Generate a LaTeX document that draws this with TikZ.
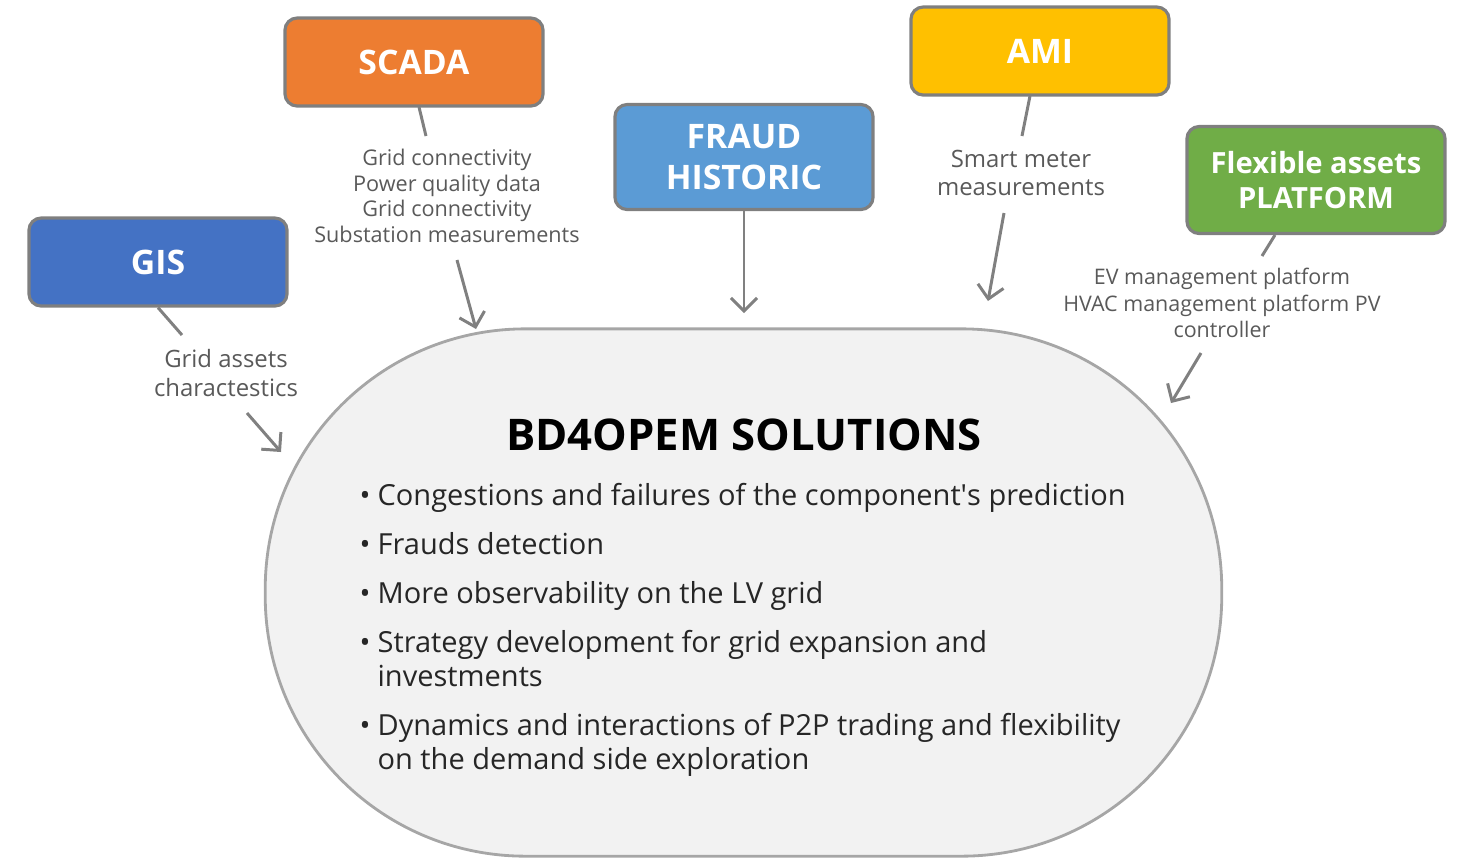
\documentclass[tikz,border=0pt]{standalone}
\usepackage{fontspec}
\setmainfont{Open Sans}
\usepackage{xcolor}
\usepackage{tikz}
\usetikzlibrary{arrows.meta}

\definecolor{scadaorange}{HTML}{ED7D31}
\definecolor{gisblue}{HTML}{4472C4}
\definecolor{fraudblue}{HTML}{5B9BD5}
\definecolor{amiyellow}{HTML}{FFC000}
\definecolor{flexgreen}{HTML}{70AD47}
\definecolor{boxgray}{HTML}{7F7F7F}
\definecolor{arrowgray}{HTML}{808080}
\definecolor{lblgray}{HTML}{595959}
\definecolor{solfill}{HTML}{F2F2F2}
\definecolor{solline}{HTML}{A6A6A6}
\definecolor{soltext}{HTML}{262626}

\tikzset{
  srcbox/.style={draw=boxgray, line width=0.9pt, rounded corners=3.5pt,
    minimum width=2.58cm, minimum height=0.88cm, text=white, align=center,
    font=\bfseries\fontsize{9.6}{11.6}\selectfont},
  feedlbl/.style={text=lblgray, align=center, inner sep=0pt,
    font=\fontsize{6.15}{7.3}\selectfont},
  link/.style={draw=arrowgray, line width=0.85pt},
  feed/.style={link, -{Straight Barb[length=1.3mm,width=2.6mm]}},
  solitem/.style={anchor=base west, inner sep=0pt, text=soltext,
    font=\fontsize{8.25}{9.9}\selectfont},
}

\begin{document}
\begin{tikzpicture}[x=0.01cm, y=-0.01cm]
      \useasboundingbox (0,0) rectangle (1459,859);

      % solutions area
      \node (sol) [draw=solline, fill=solfill, line width=0.8pt, rounded corners=2.6cm,
        minimum width=9.56cm, minimum height=5.27cm] at (743.5,592.5) {};
      \node (soltitle) [text=black, font=\bfseries\fontsize{12.4}{14}\selectfont] at (744,435) {BD4OPEM SOLUTIONS};
      \node (item1) [solitem] at (359,505) {\begin{tabular}[t]{@{}l@{\hspace{2pt}}l@{}}\textbullet & Congestions and failures of the component\textquotesingle s prediction\end{tabular}};
      \node (item2) [solitem] at (359,554) {\begin{tabular}[t]{@{}l@{\hspace{2pt}}l@{}}\textbullet & Frauds detection\end{tabular}};
      \node (item3) [solitem] at (359,603) {\begin{tabular}[t]{@{}l@{\hspace{2pt}}l@{}}\textbullet & More observability on the LV grid\end{tabular}};
      \node (item4) [solitem] at (359,652) {\begin{tabular}[t]{@{}l@{\hspace{2pt}}l@{}}\textbullet & Strategy development for grid expansion and\\ & investments\end{tabular}};
      \node (item5) [solitem] at (359,735) {\begin{tabular}[t]{@{}l@{\hspace{2pt}}l@{}}\textbullet & Dynamics and interactions of P2P trading and flexibility\\ & on the demand side exploration\end{tabular}};

      % data sources
      \node (gis) [srcbox, fill=gisblue] at (158,262) {GIS};
      \node (scada) [srcbox, fill=scadaorange] at (414,62) {SCADA};
      \node (fraud) [srcbox, fill=fraudblue, minimum height=1.05cm] at (744,157) {FRAUD\\HISTORIC};
      \node (ami) [srcbox, fill=amiyellow] at (1040,51) {AMI};
      \node (flex) [srcbox, fill=flexgreen, minimum height=1.07cm,
        font=\bfseries\fontsize{8.3}{10}\selectfont] at (1316,180) {Flexible assets\\PLATFORM};

      % what each source gives
      \node (gislbl) [feedlbl, font=\fontsize{6.8}{8}\selectfont] at (226,373) {Grid assets\\charactestics};
      \node (scadalbl) [feedlbl] at (447,196) {Grid connectivity\\Power quality data\\Grid connectivity\\Substation measurements};
      \node (amilbl) [feedlbl, font=\fontsize{6.8}{8}\selectfont] at (1021,173) {Smart meter\\measurements};
      \node (flexlbl) [feedlbl, font=\fontsize{6.1}{7.5}\selectfont] at (1222,303) {EV management platform\\HVAC management platform PV\\controller};

      \coordinate (gistick) at (182,335);
      \coordinate (gisfrom) at (247,413);
      \coordinate (gisto) at (281,452);
      \coordinate (scadatop) at (419,107);
      \coordinate (scadatick) at (426,136);
      \coordinate (scadafrom) at (457,260);
      \coordinate (scadato) at (476,329);
      \coordinate (fraudto) at (744,313);
      \coordinate (amitop) at (1030,96);
      \coordinate (amitick) at (1022,136);
      \coordinate (amifrom) at (1004,213);
      \coordinate (amito) at (988,301);
      \coordinate (flextop) at (1275,235);
      \coordinate (flextick) at (1262,256);
      \coordinate (flexfrom) at (1201,353);
      \coordinate (flexto) at (1171,403);

      \draw [link] (gis.south) -- (gistick);
      \draw [feed] (gisfrom) -- (gisto);
      \draw [link] (scadatop) -- (scadatick);
      \draw [feed] (scadafrom) -- (scadato);
      \draw [feed] (fraud.south) -- (fraudto);
      \draw [link] (amitop) -- (amitick);
      \draw [feed] (amifrom) -- (amito);
      \draw [link] (flextop) -- (flextick);
      \draw [feed] (flexfrom) -- (flexto);
\end{tikzpicture}
\end{document}
